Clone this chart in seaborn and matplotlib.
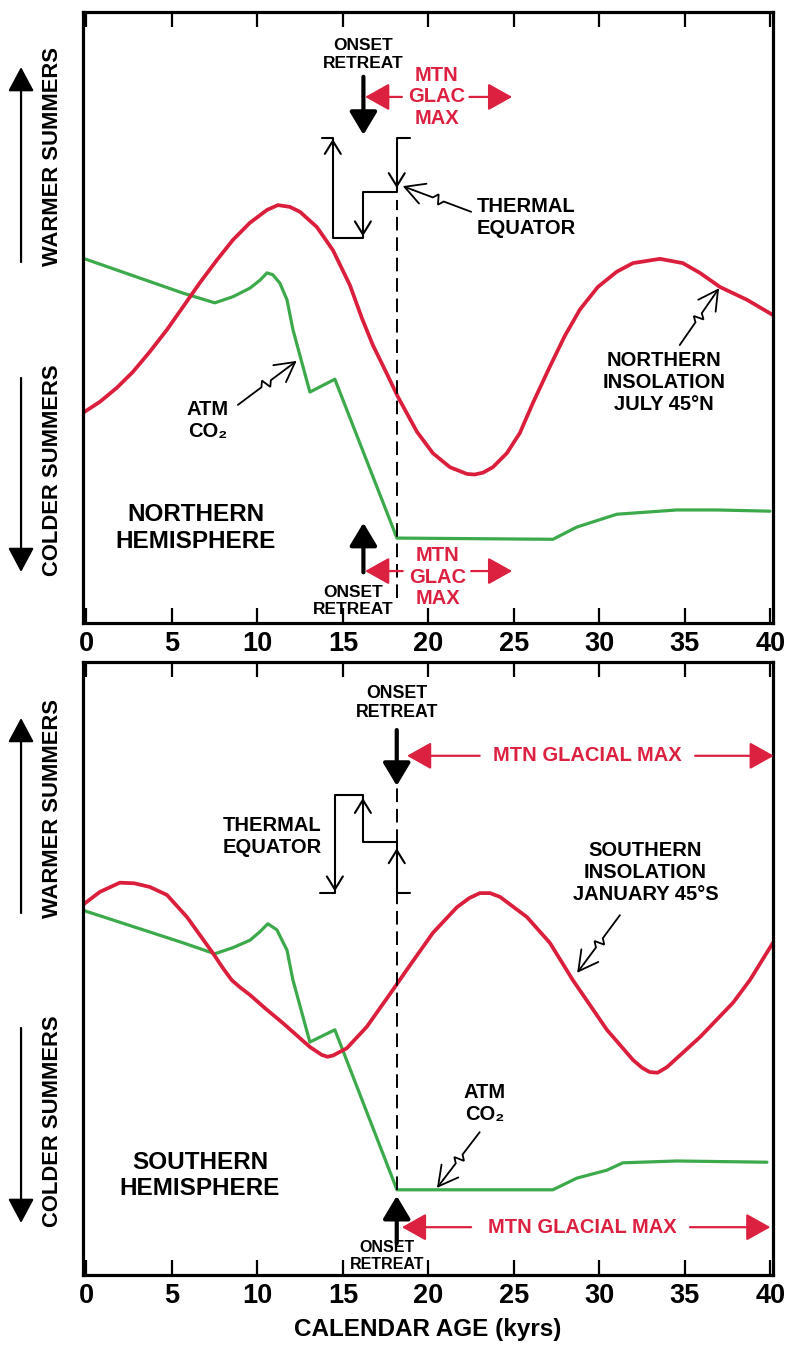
import numpy as np
import pandas as pd
import matplotlib
matplotlib.use("Agg")
import matplotlib.pyplot as plt
from matplotlib.patches import FancyArrowPatch
import seaborn as sns

# ---------------- data (relative units, 0 = bottom of panel, 100 = top) ----------------
age_ins_n = [-0.2, 0.79, 1.78, 2.72, 3.71, 4.71, 5.64, 6.64, 7.63, 8.57, 9.56, 10.56, 11.2, 11.9,
             12.49, 13.48, 14.42, 15.41, 16.11, 16.75, 17.57, 18.22, 19.33, 20.26, 21.26, 22.25,
             22.7, 23.19, 23.77, 24.59, 25.35, 26.11, 27.11, 27.98, 28.86, 29.91, 31.02, 31.96,
             33.54, 34.88, 35.88, 37.05, 38.63, 40.15]
ins_north = [34.4, 36.2, 38.5, 41.1, 44.4, 48.0, 51.7, 55.7, 59.4, 62.7, 65.5, 67.6, 68.4, 68.1,
             67.3, 64.8, 61.0, 55.3, 49.9, 45.5, 40.8, 37.0, 31.3, 27.8, 25.5, 24.4,
             24.3, 24.6, 25.5, 27.8, 31.1, 36.0, 42.0, 47.0, 51.3, 55.0, 57.5, 58.9,
             59.6, 58.9, 57.3, 55.0, 52.9, 50.4]

age_co2_n = [-0.2, 5.64, 7.51, 8.57, 9.56, 10.15, 10.56, 10.9, 11.32, 11.73, 12.08, 13.07, 14.53,
             18.16, 27.28, 28.68, 31.02, 34.53, 36.87, 39.97]
co2_north = [59.7, 54.0, 52.4, 53.4, 54.8, 56.1, 57.3, 57.0, 55.6, 52.9, 48.0, 37.8, 39.9,
             13.9, 13.7, 15.7, 17.8, 18.5, 18.5, 18.3]

age_ins_s = [-0.2, 0.79, 1.96, 2.8, 3.71, 4.71, 5.88, 7.4, 8.0, 8.5, 9.0, 9.56, 10.5, 11.49,
             13.07, 13.77, 14.1, 14.42, 15.23, 16.4, 17.92, 18.74, 20.26, 21.67, 22.4, 23.01,
             23.6, 24.18, 25.76, 27.1, 28.45, 30.44, 31.96, 32.5, 32.95, 33.4, 33.95, 35.88,
             37.81, 38.8, 40.15]
ins_south = [60.4, 62.5, 64.0, 63.9, 63.3, 62.0, 58.4, 52.5, 50.0, 48.1, 46.9, 45.7, 43.4, 41.1,
             37.2, 35.9, 35.6, 35.8, 37.0, 40.5, 46.5, 49.8, 55.8, 60.0, 61.5, 62.3,
             62.3, 61.7, 58.4, 54.2, 48.1, 40.0, 35.1, 33.8, 33.1, 33.0, 33.9, 38.8,
             44.4, 48.1, 54.2]

age_co2_s = [-0.2, 5.64, 7.51, 8.57, 9.56, 10.15, 10.61, 11.14, 11.73, 12.08, 13.07, 14.53,
             18.16, 27.28, 28.68, 30.44, 31.37, 34.53, 39.8]
co2_south = [59.5, 54.2, 52.4, 53.4, 54.6, 56.0, 57.3, 56.3, 53.0, 48.1, 38.0, 40.0,
             13.9, 13.9, 15.8, 17.1, 18.3, 18.6, 18.4]

xticks = [0, 5, 10, 15, 20, 25, 30, 35, 40]
onset_age = 18.15   # onset of retreat / end of mountain glacial maximum

RED = "#DA1E3C"
GREEN = "#3CA94B"
TXT_RED = "#DC2040"

# ---------------- style ----------------
sns.set_theme(style="white")
plt.rcParams["font.family"] = ["Liberation Sans", "DejaVu Sans"]
plt.rcParams["font.weight"] = "bold"
plt.rcParams["axes.labelweight"] = "bold"
plt.rcParams["text.color"] = "black"
plt.rcParams["xtick.color"] = "black"
plt.rcParams["xtick.labelcolor"] = "black"
plt.rcParams["axes.edgecolor"] = "black"

fig = plt.figure(figsize=(7.88, 13.46), dpi=100)
ax1 = fig.add_axes([0.1053, 0.53715, 0.8756, 0.45393])
ax2 = fig.add_axes([0.1053, 0.05275, 0.8756, 0.45542])

for ax, ai, vi, ac, vc in [(ax1, age_ins_n, ins_north, age_co2_n, co2_north),
                           (ax2, age_ins_s, ins_south, age_co2_s, co2_south)]:
    sns.lineplot(x=ac, y=vc, ax=ax, color=GREEN, lw=2.3, estimator=None, sort=False,
                 solid_joinstyle="round")
    sns.lineplot(x=ai, y=vi, ax=ax, color=RED, lw=2.7, estimator=None, sort=False,
                 solid_joinstyle="round")
    ax.set_xlim(-0.2, 40.15)
    ax.set_ylim(0, 100)
    ax.set_xticks(xticks)
    ax.set_xticklabels([str(t) for t in xticks], fontsize=19.5, fontweight="bold")
    ax.set_yticks([])
    ax.set_xlabel("")
    ax.set_ylabel("")
    ax.tick_params(axis="x", which="both", direction="in", length=11, width=1.6,
                   top=True, bottom=True, pad=6, colors="black")
    for s in ax.spines.values():
        s.set_visible(True)
        s.set_linewidth(2.3)
        s.set_color("black")
    ax.set_facecolor("white")


def squiggle(ax, start, tip, lw=1.3, amp=5):
    inv = ax.transData.inverted()
    p0 = ax.transData.transform(start)
    p1 = ax.transData.transform(tip)
    v = p1 - p0
    L = np.hypot(*v)
    d = v / L
    n = np.array([-d[1], d[0]])
    pts = np.array([p0, p0 + 0.40 * v, p0 + 0.46 * v + amp * n, p0 + 0.50 * v - amp * n,
                    p0 + 0.56 * v, p0 + 0.85 * v])
    dat = inv.transform(pts)
    ax.plot(dat[:, 0], dat[:, 1], color="black", lw=lw, solid_joinstyle="miter")
    ax.annotate("", xy=tip, xytext=tuple(dat[-1]),
                arrowprops=dict(arrowstyle="->,head_length=0.7,head_width=0.38",
                                mutation_scale=20, lw=lw, color="black",
                                shrinkA=0, shrinkB=0))


def chevron(ax, x, y, up):
    inv = ax.transData.inverted()
    p = ax.transData.transform((x, y))
    s = 1 if up else -1
    pts = np.array([[p[0] - 8, p[1] - s * 13], p, [p[0] + 8, p[1] - s * 13]])
    dat = inv.transform(pts)
    ax.plot(dat[:, 0], dat[:, 1], color="black", lw=1.5)


def solid_arrow(ax, start, tip, color, lw, hl, hw, ms=20):
    ax.annotate("", xy=tip, xytext=start, annotation_clip=False,
                arrowprops=dict(arrowstyle=f"-|>,head_length={hl},head_width={hw}",
                                mutation_scale=ms, lw=lw, color=color,
                                shrinkA=0, shrinkB=0))


# ---------------- top panel annotations ----------------
ax1.plot([onset_age, onset_age], [4.1, 69.2], color="black", lw=1.4, ls=(0, (7, 3.5)))
te_x = [13.77, 14.41, 14.41, 16.17, 16.17, onset_age, onset_age, 18.9]
te_y = [79.4, 79.4, 63.0, 63.0, 70.5, 70.5, 79.4, 79.4]
ax1.plot(te_x, te_y, color="black", lw=1.5)
chevron(ax1, 14.41, 78.9, up=True)
chevron(ax1, 16.17, 63.6, up=False)
chevron(ax1, onset_age, 71.5, up=False)

ax1.text(16.2, 93.0, "ONSET\nRETREAT", ha="center", va="center", fontsize=12.5,
         fontweight="bold", linespacing=1.25)
solid_arrow(ax1, (16.2, 89.4), (16.2, 79.9), "black", 3.0, 0.7, 0.42)
ax1.text(20.5, 86.1, "MTN\nGLAC\nMAX", ha="center", va="center", fontsize=14.5,
         fontweight="bold", color=TXT_RED, linespacing=1.15)
solid_arrow(ax1, (18.45, 86.1), (16.3, 86.1), TXT_RED, 1.6, 0.75, 0.42)
solid_arrow(ax1, (22.4, 86.1), (24.9, 86.1), TXT_RED, 1.6, 0.75, 0.42)

ax1.text(22.8, 66.4, "THERMAL\nEQUATOR", ha="left", va="center", fontsize=14.5,
         fontweight="bold", linespacing=1.2)
squiggle(ax1, (22.5, 67.3), (18.5, 71.5))

ax1.text(7.1, 33.2, "ATM\nCO₂", ha="center", va="center", fontsize=14.5,
         fontweight="bold", linespacing=1.2)
squiggle(ax1, (8.86, 35.7), (12.3, 42.9))

ax1.text(33.8, 39.3, "NORTHERN\nINSOLATION\nJULY 45°N", ha="center", va="center",
         fontsize=14.5, fontweight="bold", linespacing=1.2)
squiggle(ax1, (34.7, 45.5), (37.0, 54.8))

ax1.text(6.4, 15.5, "NORTHERN\nHEMISPHERE", ha="center", va="center", fontsize=17.5,
         fontweight="bold", linespacing=1.2)

solid_arrow(ax1, (16.2, 8.3), (16.2, 16.4), "black", 3.0, 0.7, 0.42)
ax1.text(15.6, 3.6, "ONSET\nRETREAT", ha="center", va="center", fontsize=12.5,
         fontweight="bold", linespacing=1.2)
ax1.text(20.55, 7.5, "MTN\nGLAC\nMAX", ha="center", va="center", fontsize=14.5,
         fontweight="bold", color=TXT_RED, linespacing=1.15)
solid_arrow(ax1, (18.5, 8.5), (16.3, 8.5), TXT_RED, 1.6, 0.75, 0.42)
solid_arrow(ax1, (22.5, 8.5), (24.9, 8.5), TXT_RED, 1.6, 0.75, 0.42)

# ---------------- bottom panel annotations ----------------
ax2.plot([onset_age, onset_age], [13.9, 79.4], color="black", lw=1.4, ls=(0, (7, 3.5)))
te2_x = [13.65, 14.53, 14.53, 16.17, 16.17, onset_age, onset_age, 18.9]
te2_y = [62.3, 62.3, 78.3, 78.3, 70.6, 70.6, 62.3, 62.3]
ax2.plot(te2_x, te2_y, color="black", lw=1.5)
chevron(ax2, 14.53, 62.9, up=False)
chevron(ax2, 16.17, 77.5, up=True)
chevron(ax2, onset_age, 69.3, up=True)

ax2.text(18.15, 93.3, "ONSET\nRETREAT", ha="center", va="center", fontsize=12.8,
         fontweight="bold", linespacing=1.2)
solid_arrow(ax2, (onset_age, 88.9), (onset_age, 79.8), "black", 3.0, 0.7, 0.42)
ax2.text(29.3, 84.7, "MTN GLACIAL MAX", ha="center", va="center", fontsize=14.5,
         fontweight="bold", color=TXT_RED)
solid_arrow(ax2, (23.0, 84.7), (18.75, 84.7), TXT_RED, 1.6, 0.75, 0.42)
solid_arrow(ax2, (35.6, 84.7), (40.2, 84.7), TXT_RED, 1.6, 0.75, 0.42)

ax2.text(10.85, 71.6, "THERMAL\nEQUATOR", ha="center", va="center", fontsize=14.5,
         fontweight="bold", linespacing=1.2)

ax2.text(32.7, 65.7, "SOUTHERN\nINSOLATION\nJANUARY 45°S", ha="center", va="center",
         fontsize=14.5, fontweight="bold", linespacing=1.2)
squiggle(ax2, (31.2, 58.7), (28.7, 49.3))

ax2.text(23.3, 27.9, "ATM\nCO₂", ha="center", va="center", fontsize=14.5,
         fontweight="bold", linespacing=1.2)
squiggle(ax2, (23.0, 23.3), (20.5, 14.2))

ax2.text(6.64, 16.2, "SOUTHERN\nHEMISPHERE", ha="center", va="center", fontsize=17.5,
         fontweight="bold", linespacing=1.2)

solid_arrow(ax2, (onset_age, 5.2), (onset_age, 12.9), "black", 3.0, 0.7, 0.42)
ax2.text(17.6, 3.1, "ONSET\nRETREAT", ha="center", va="center", fontsize=11.5,
         fontweight="bold", linespacing=1.15)
ax2.text(29.0, 7.8, "MTN GLACIAL MAX", ha="center", va="center", fontsize=14.5,
         fontweight="bold", color=TXT_RED)
solid_arrow(ax2, (22.5, 7.8), (18.45, 7.8), TXT_RED, 1.6, 0.75, 0.42)
solid_arrow(ax2, (35.3, 7.8), (40.0, 7.8), TXT_RED, 1.6, 0.75, 0.42)

# ---------------- figure-level labels ----------------
fig.text(0.5431, 0.0119, "CALENDAR AGE (kyrs)", ha="center", va="center", fontsize=17.5,
         fontweight="bold")

for (yw, yc, up0, up1, dn0, dn1) in [
        (0.8834, 0.6508, 0.8053, 0.9502, 0.7192, 0.5750),
        (0.3997, 0.1672, 0.3217, 0.4666, 0.2363, 0.0914)]:
    fig.text(0.066, yw, "WARMER SUMMERS", rotation=90, ha="center", va="center",
             fontsize=15.8, fontweight="bold")
    fig.text(0.066, yc, "COLDER SUMMERS", rotation=90, ha="center", va="center",
             fontsize=15.8, fontweight="bold")
    for a, b in [(up0, up1), (dn0, dn1)]:
        fig.add_artist(FancyArrowPatch((0.0267, a), (0.0267, b), transform=fig.transFigure,
                                       arrowstyle="-|>,head_length=0.75,head_width=0.4",
                                       mutation_scale=20, lw=1.6, color="black",
                                       shrinkA=0, shrinkB=0))

fig.savefig("out.png", dpi=100, facecolor="white")
